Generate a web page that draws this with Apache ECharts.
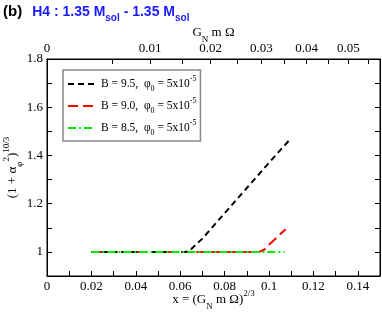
<!DOCTYPE html>
<html><head><meta charset="utf-8">
<script src="https://cdn.jsdelivr.net/npm/echarts@6/dist/echarts.min.js"></script>
<style>html,body{margin:0;padding:0;background:#fff}#c{width:382px;height:315px}</style>
</head><body><div id="c"></div>
<script>
// ---- data ----
const xTickLabels = [0, 0.02, 0.04, 0.06, 0.08, 0.1, 0.12, 0.14];
const xMinorTicks = [0.01, 0.03, 0.05, 0.07, 0.09, 0.11, 0.13];
const yTickLabels = [1, 1.2, 1.4, 1.6, 1.8];
const yMinorTicks = [1.1, 1.3, 1.5, 1.7];
const topTickLabels = [0, 0.01, 0.02, 0.03, 0.04, 0.05];
const topMinorTicks = [0.005, 0.015, 0.025, 0.035, 0.045, 0.055];

const seriesNames = ['B = 9.5', 'B = 9.0', 'B = 8.5'];
const blackX = [0.02, 0.03, 0.04, 0.05, 0.06, 0.0625, 0.065, 0.07, 0.08, 0.09, 0.1, 0.11];
const blackY = [1, 1, 1, 1, 1, 1.0, 1.012, 1.055, 1.16, 1.265, 1.37, 1.472];
const redX = [0.02, 0.03, 0.04, 0.05, 0.06, 0.07, 0.08, 0.09, 0.0955, 0.098, 0.1, 0.1075];
const redY = [1, 1, 1, 1, 1, 1, 1, 1, 1.0, 1.01, 1.03, 1.094];
const greenX = [0.02, 0.03, 0.04, 0.05, 0.06, 0.07, 0.08, 0.09, 0.1, 0.107];
const greenY = [1, 1, 1, 1, 1, 1, 1, 1, 1, 1];

const XMIN = 0, XMAX = 0.15, YMIN = 0.9, YMAX = 1.8;
const serif = 'Liberation Serif';
const toPairs = (xs, ys) => xs.map((x, i) => [x, ys[i]]);
const gToX = g => Math.pow(g, 2 / 3);
const byValue = (a, b) => a - b;

const supsub = {
  m: { fontFamily: serif, fontSize: 13, color: '#000', lineHeight: 22, verticalAlign: 'middle' },
  sub: { fontFamily: serif, fontSize: 9, color: '#000', lineHeight: 22, verticalAlign: 'bottom' },
  sup: { fontFamily: serif, fontSize: 9, color: '#000', lineHeight: 22, verticalAlign: 'top' }
};
const legRich = {
  m: { fontFamily: serif, fontSize: 11.5, color: '#000', lineHeight: 18, verticalAlign: 'middle' },
  sub: { fontFamily: serif, fontSize: 8, color: '#000', lineHeight: 18, verticalAlign: 'bottom' },
  sup: { fontFamily: serif, fontSize: 8, color: '#000', lineHeight: 18, verticalAlign: 'top' }
};
const baseLabel = { fontFamily: serif, fontSize: 13, color: '#000' };

const topX = topTickLabels.map(gToX);
const topMinorX = topMinorTicks.map(gToX);
const bottomTicks = xTickLabels.concat(xMinorTicks).sort(byValue);
const topTicks = topX.concat(topMinorX).sort(byValue);
const yTicks = yTickLabels.concat(yMinorTicks).sort(byValue);

function tick(values) {
  return { show: true, inside: true, length: 5, customValues: values, lineStyle: { color: '#000', width: 1 } };
}

const chart = echarts.init(document.getElementById('c'));
chart.setOption({
  animation: false,
  title: {
    left: 3, top: 1, padding: 0,
    text: '{b|(b)}  {h|H4 : 1.35 M}{s|sol}{h| - 1.35 M}{s|sol}',
    textStyle: {
      rich: {
        b: { fontFamily: 'Liberation Sans', fontWeight: 'bold', fontSize: 15, color: '#000', lineHeight: 22, verticalAlign: 'middle' },
        h: { fontFamily: 'Liberation Sans', fontWeight: 'bold', fontSize: 14, color: '#1a1aff', lineHeight: 22, verticalAlign: 'middle' },
        s: { fontFamily: 'Liberation Sans', fontWeight: 'bold', fontSize: 10, color: '#1a1aff', lineHeight: 22, verticalAlign: 'bottom' }
      }
    }
  },
  grid: { left: 47, right: 2, top: 59, bottom: 39, outerBoundsMode: 'none',
    show: true, borderColor: '#000', borderWidth: 1, backgroundColor: 'transparent' },
  legend: {
    orient: 'vertical', left: 63, top: 70,
    padding: [5, 4, 4, 4], itemGap: 4, itemWidth: 26, itemHeight: 16,
    borderColor: '#888', borderWidth: 1.5, backgroundColor: '#fff',
    data: seriesNames,
    itemStyle: { opacity: 0 },
    formatter: n => `{m|${n},  φ}{sub|0}{m| = 5x10}{sup|-5}`,
    textStyle: { rich: legRich, padding: [0, 0, 0, 2] }
  },
  xAxis: [
    {
      type: 'value', position: 'bottom', min: XMIN, max: XMAX,
      axisLine: { show: true, onZero: false, lineStyle: { color: '#000' } },
      axisTick: tick(bottomTicks), splitLine: { show: false },
      axisLabel: Object.assign({ customValues: xTickLabels, margin: 4, formatter: v => String(v) }, baseLabel),
      name: '{m|x = (G}{sub|N}{m| m Ω)}{sup|2/3}', nameLocation: 'middle', nameGap: 13, nameMoveOverlap: false,
      nameTextStyle: { rich: supsub }
    },
    {
      type: 'value', position: 'top', min: XMIN, max: XMAX,
      axisLine: { show: true, onZero: false, lineStyle: { color: '#000' } },
      axisTick: tick(topTicks), splitLine: { show: false },
      axisLabel: Object.assign({ customValues: topX, margin: 4,
        formatter: v => String(Math.round(Math.pow(v, 1.5) * 1000) / 1000) }, baseLabel),
      name: '{m|G}{sub|N}{m| m Ω}', nameLocation: 'middle', nameGap: 15, nameMoveOverlap: false,
      nameTextStyle: { rich: supsub }
    }
  ],
  yAxis: [
    {
      type: 'value', position: 'left', min: YMIN, max: YMAX,
      axisLine: { show: true, onZero: false, lineStyle: { color: '#000' } },
      axisTick: tick(yTicks), splitLine: { show: false },
      axisLabel: Object.assign({ customValues: yTickLabels, margin: 4, formatter: v => String(v) }, baseLabel),
      name: '{m|(1 + α}{sub|φ}{sup|2}{m|)}{sup|10/3}', nameLocation: 'middle', nameGap: 23, nameRotate: 90,
      nameMoveOverlap: false, nameTextStyle: { rich: supsub }
    },
    {
      type: 'value', position: 'right', min: YMIN, max: YMAX,
      axisLine: { show: true, onZero: false, lineStyle: { color: '#000' } },
      axisTick: tick(yTicks), splitLine: { show: false },
      axisLabel: { show: false, customValues: yTickLabels }
    }
  ],
  series: [
    { name: seriesNames[0], type: 'line', symbol: 'none', z: 4,
      itemStyle: { color: '#000' },
      data: toPairs(blackX, blackY), lineStyle: { color: '#000', width: 2, type: [6, 4] } },
    { name: seriesNames[1], type: 'line', symbol: 'none', z: 3,
      itemStyle: { color: '#ff0000' },
      data: toPairs(redX, redY), lineStyle: { color: '#ff0000', width: 2, type: [10, 5] } },
    { name: seriesNames[2], type: 'line', symbol: 'none', z: 5,
      itemStyle: { color: '#00ee00' },
      data: toPairs(greenX, greenY), lineStyle: { color: '#00ee00', width: 2, type: [8, 3, 2, 3] } }
  ]
});
</script>
</body></html>
